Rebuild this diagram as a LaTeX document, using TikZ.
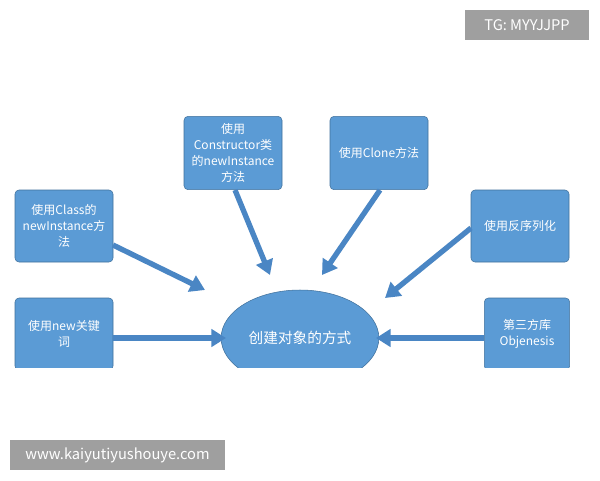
\documentclass[tikz,border=0pt]{standalone}
\usepackage{fontspec}
\setmainfont{Noto Sans CJK SC}
\usetikzlibrary{arrows.meta,shapes.geometric}
\definecolor{bx}{HTML}{5B9BD5}
\definecolor{bxd}{HTML}{41719C}
\definecolor{ar}{HTML}{4A86C4}
\tikzset{
 box/.style={draw=bxd,fill=bx,rounded corners=3pt,text=white,font=\fontsize{9}{12}\selectfont,align=center,inner sep=2pt},
 arr/.style={draw=ar,line width=4pt,-{Triangle[length=11pt,width=13pt]}},
 tag/.style={fill=gray!75,text=white,inner sep=0pt,font=\fontsize{11}{13}\selectfont}
}
\begin{document}
\begin{tikzpicture}[x=0.75pt,y=-0.75pt]
\useasboundingbox (0,0) rectangle (600,480);
\fill[white] (0,0) rectangle (600,480);
\node[box,minimum width=73.5pt,minimum height=54pt] (b1) at (64,226) {使用Class的\\newInstance方\\法};
\node[box,minimum width=73.5pt,minimum height=55pt] (b2) at (233,153) {使用\\Constructor类\\的newInstance\\方法};
\node[box,minimum width=73.5pt,minimum height=55pt] (b3) at (379,153) {使用Clone方法};
\node[box,minimum width=73.5pt,minimum height=54pt] (b4) at (520,226) {使用反序列化};
\node[box,minimum width=73.5pt,minimum height=54pt] (b5) at (64,334) {使用new关键\\词};
\node[box,minimum width=64pt,minimum height=54pt] (b6) at (527,334) {第三方库\\Objenesis};
\node[draw=bxd,fill=bx,ellipse,minimum width=112pt,minimum height=72pt,text=white,font=\fontsize{11}{13}\selectfont] (c) at (300,338) {创建对象的方式};
\coordinate (a1) at (113,245); \coordinate (e1) at (205,290);
\coordinate (a2) at (235,190); \coordinate (e2) at (270,275);
\coordinate (a3) at (380,190); \coordinate (e3) at (322,275);
\coordinate (a4) at (471,228); \coordinate (e4) at (385,298);
\coordinate (a5) at (113,338); \coordinate (e5) at (226,338);
\coordinate (a6) at (484,338); \coordinate (e6) at (376,338);
\foreach \i in {1,...,6} {\draw[arr] (a\i) -- (e\i);}
\fill[white] (0,368) rectangle (600,480);
\node[tag,minimum width=93pt,minimum height=22pt] (tg) at (527,25) {TG: MYYJJPP};
\node[tag,minimum width=161pt,minimum height=22pt] (url) at (117.5,455) {www.kaiyutiyushouye.com};
\end{tikzpicture}
\end{document}
